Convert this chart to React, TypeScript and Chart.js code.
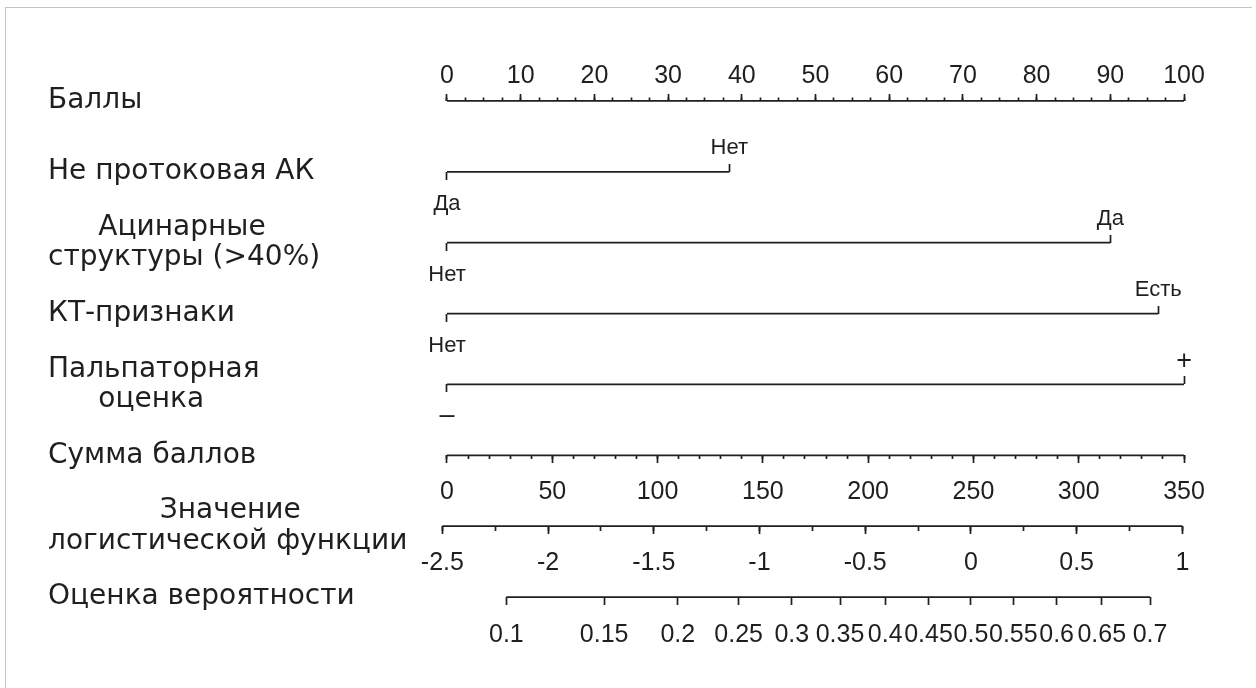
import React, { useEffect, useRef } from "react";
import { Chart, registerables } from "chart.js";

Chart.register(...registerables);

// ---------------- data ----------------
const ROW_TITLES: string[][] = [
  ["Баллы"],
  ["Не протоковая АК"],
  ["Ацинарные", "структуры (>40%)"],
  ["КТ-признаки"],
  ["Пальпаторная", "оценка"],
  ["Сумма баллов"],
  ["Значение", "логистической функции"],
  ["Оценка вероятности"],
];

const POINTS_TICKS = [0, 10, 20, 30, 40, 50, 60, 70, 80, 90, 100];
const POINTS_MINOR_STEP = 2.5;

const VARIABLE_ROWS = [1, 2, 3, 4];
const LEVEL_LOW = ["Да", "Нет", "Нет", "–"];
const LEVEL_HIGH = ["Нет", "Да", "Есть", "+"];
const LEVEL_HIGH_POINTS = [38.3, 90, 96.5, 100];

const TOTAL_TICKS = [0, 50, 100, 150, 200, 250, 300, 350];
const TOTAL_MINOR_STEP = 10;
const TOTAL_PER_POINT = 3.5;

const LP_TICKS = [-2.5, -2, -1.5, -1, -0.5, 0, 0.5, 1];
const LP_MINOR_STEP = 0.25;
const LP_INTERCEPT = -2.478;
const LP_PER_TOTAL = 0.00996;

const PROB_TICKS = [0.1, 0.15, 0.2, 0.25, 0.3, 0.35, 0.4, 0.45, 0.5, 0.55, 0.6, 0.65, 0.7];

// ---------------- layout / style ----------------
const ROW_POINTS = 0;
const ROW_TOTAL = 5;
const ROW_LP = 6;
const ROW_PROB = 7;
const POINTS_VIEW = [-1.22, 100.54];
const INK = "#1f1f1f";
const LINE_W = 1.7;
const TITLE_FONT = { family: "'DejaVu Sans', sans-serif", size: 28, lineHeight: 1.08 };
const NUM_FONT = { family: "'Liberation Sans', Arial, sans-serif", size: 25, lineHeight: 1.2 };
const LEVEL_FONT = { family: "'Liberation Sans', Arial, sans-serif", size: 22, lineHeight: 1.2 };
const SIGN_FONT = { family: "'Liberation Sans', Arial, sans-serif", size: 27, lineHeight: 1.2 };

const steps = (a: number, b: number, step: number) => {
  const out: number[] = [];
  const n = Math.round((b - a) / step);
  for (let i = 0; i <= n; i++) out.push(Math.round((a + i * step) * 1e6) / 1e6);
  return out;
};
const logit = (p: number) => Math.log(p / (1 - p));
const lpOfTotal = (t: number) => LP_INTERCEPT + LP_PER_TOTAL * t;

function centerLines(lines: string[]): string[] {
  if (lines.length < 2) return lines;
  const ctx = document.createElement("canvas").getContext("2d");
  if (!ctx) return lines;
  ctx.font = `${TITLE_FONT.size}px ${TITLE_FONT.family}`;
  const widths = lines.map((l) => ctx.measureText(l).width);
  const maxW = Math.max(...widths);
  let pad = "\u2009";
  let padW = ctx.measureText(pad).width;
  if (!(padW > 0)) {
    pad = " ";
    padW = ctx.measureText(pad).width;
  }
  return lines.map((l, i) => pad.repeat(Math.round((maxW - widths[i]) / 2 / padW)) + l);
}

function hAxis(opts: {
  row: number;
  min: number;
  max: number;
  ticks: number[];
  labels?: string[];
  tickLength: number;
  padding?: number;
  font?: any;
}) {
  const { row, min, max, ticks, labels, tickLength, padding = 0, font = NUM_FONT } = opts;
  return {
    type: "linear",
    axis: "x",
    position: { y: row },
    min,
    max,
    border: { display: false },
    grid: {
      display: true,
      drawOnChartArea: false,
      drawTicks: true,
      tickLength,
      tickColor: INK,
      tickWidth: LINE_W,
    },
    ticks: {
      display: !!labels,
      autoSkip: false,
      maxRotation: 0,
      minRotation: 0,
      padding,
      font,
      color: INK,
      callback: (_v: number, i: number) => (labels ? labels[i] : ""),
    },
    afterBuildTicks: (s: any) => {
      s.ticks = ticks.map((value) => ({ value }));
    },
    afterFit: (s: any) => {
      s.height = 0;
      s.paddingLeft = 0;
      s.paddingRight = 0;
      s.paddingTop = 0;
      s.paddingBottom = 0;
    },
  };
}

export default function App() {
  const ref = useRef<HTMLCanvasElement | null>(null);

  useEffect(() => {
    if (!ref.current) return;
    const [pMin, pMax] = POINTS_VIEW;
    const tMin = pMin * TOTAL_PER_POINT;
    const tMax = pMax * TOTAL_PER_POINT;
    const lMin = lpOfTotal(tMin);
    const lMax = lpOfTotal(tMax);

    const scales: any = {
      x: { axis: "x", type: "linear", display: false },
      y: {
        type: "linear",
        axis: "y",
        position: "left",
        reverse: true,
        min: -1,
        max: 8,
        grid: { display: false },
        border: { display: false },
        ticks: {
          crossAlign: "far",
          padding: 0,
          autoSkip: false,
          font: TITLE_FONT,
          color: INK,
          callback: (_v: number, i: number) => {
            const t = centerLines(ROW_TITLES[i]);
            return t.length === 1 ? t[0] : t;
          },
        },
        afterBuildTicks: (s: any) => {
          s.ticks = ROW_TITLES.map((_t, i) => ({ value: i }));
        },
        afterFit: (s: any) => {
          s.width = 390;
          s.paddingTop = 0;
          s.paddingBottom = 0;
        },
      },
      ptsMaj: hAxis({
        row: ROW_POINTS, min: pMin, max: pMax, ticks: POINTS_TICKS,
        labels: POINTS_TICKS.map(String), tickLength: -7, padding: -33,
      }),
      ptsMin: hAxis({
        row: ROW_POINTS, min: pMin, max: pMax,
        ticks: steps(POINTS_TICKS[0], POINTS_TICKS[POINTS_TICKS.length - 1], POINTS_MINOR_STEP),
        tickLength: -3.5,
      }),
      totMaj: hAxis({
        row: ROW_TOTAL, min: tMin, max: tMax, ticks: TOTAL_TICKS,
        labels: TOTAL_TICKS.map(String), tickLength: 8, padding: 14,
      }),
      totMin: hAxis({
        row: ROW_TOTAL, min: tMin, max: tMax,
        ticks: steps(TOTAL_TICKS[0], TOTAL_TICKS[TOTAL_TICKS.length - 1], TOTAL_MINOR_STEP),
        tickLength: 4,
      }),
      lpMaj: hAxis({
        row: ROW_LP, min: lMin, max: lMax, ticks: LP_TICKS,
        labels: LP_TICKS.map(String), tickLength: 8, padding: 14,
      }),
      lpMin: hAxis({
        row: ROW_LP, min: lMin, max: lMax,
        ticks: steps(LP_TICKS[0], LP_TICKS[LP_TICKS.length - 1], LP_MINOR_STEP),
        tickLength: 5,
      }),
      prob: hAxis({
        row: ROW_PROB, min: lMin, max: lMax, ticks: PROB_TICKS.map(logit),
        labels: PROB_TICKS.map(String), tickLength: 8, padding: 15,
      }),
    };

    VARIABLE_ROWS.forEach((row, i) => {
      const lowSign = LEVEL_LOW[i].length === 1;
      const highSign = LEVEL_HIGH[i].length === 1;
      scales[`lvlLo${i}`] = hAxis({
        row, min: pMin, max: pMax, ticks: [0], labels: [LEVEL_LOW[i]],
        tickLength: 8, padding: lowSign ? 7 : 10.8, font: lowSign ? SIGN_FONT : LEVEL_FONT,
      });
      scales[`lvlHi${i}`] = hAxis({
        row, min: pMin, max: pMax, ticks: [LEVEL_HIGH_POINTS[i]], labels: [LEVEL_HIGH[i]],
        tickLength: -8, padding: highSign ? -31.5 : -28.8, font: highSign ? SIGN_FONT : LEVEL_FONT,
      });
    });

    const seg = (axisId: string, row: number, a: number, b: number) => ({
      xAxisID: axisId,
      yAxisID: "y",
      data: [
        { x: a, y: row },
        { x: b, y: row },
      ],
      showLine: true,
      borderColor: INK,
      borderWidth: LINE_W,
      pointRadius: 0,
      pointHoverRadius: 0,
      fill: false,
      tension: 0,
    });

    const datasets: any[] = [
      seg("ptsMaj", ROW_POINTS, POINTS_TICKS[0], POINTS_TICKS[POINTS_TICKS.length - 1]),
      ...VARIABLE_ROWS.map((row, i) => seg("ptsMaj", row, 0, LEVEL_HIGH_POINTS[i])),
      seg("totMaj", ROW_TOTAL, TOTAL_TICKS[0], TOTAL_TICKS[TOTAL_TICKS.length - 1]),
      seg("lpMaj", ROW_LP, LP_TICKS[0], LP_TICKS[LP_TICKS.length - 1]),
      seg("prob", ROW_PROB, logit(PROB_TICKS[0]), logit(PROB_TICKS[PROB_TICKS.length - 1])),
    ];

    const chart = new Chart(ref.current, {
      type: "scatter",
      data: { datasets },
      options: {
        animation: false,
        responsive: true,
        maintainAspectRatio: false,
        layout: { padding: { left: 40, right: 60, top: 22, bottom: 12 } },
        plugins: { legend: { display: false }, tooltip: { enabled: false } },
        events: [],
        scales,
      } as any,
    });
    return () => chart.destroy();
  }, []);

  return (
    <>
      <div
        style={{
          position: "absolute",
          left: 5,
          top: 7,
          width: 1247,
          height: 681,
          boxSizing: "border-box",
          borderTop: "1px solid #c4c4c4",
          borderLeft: "1px solid #c4c4c4",
          pointerEvents: "none",
        }}
      />
      <div style={{ width: 1240, height: 672, position: "relative" }}>
        <canvas ref={ref} />
      </div>
    </>
  );
}
